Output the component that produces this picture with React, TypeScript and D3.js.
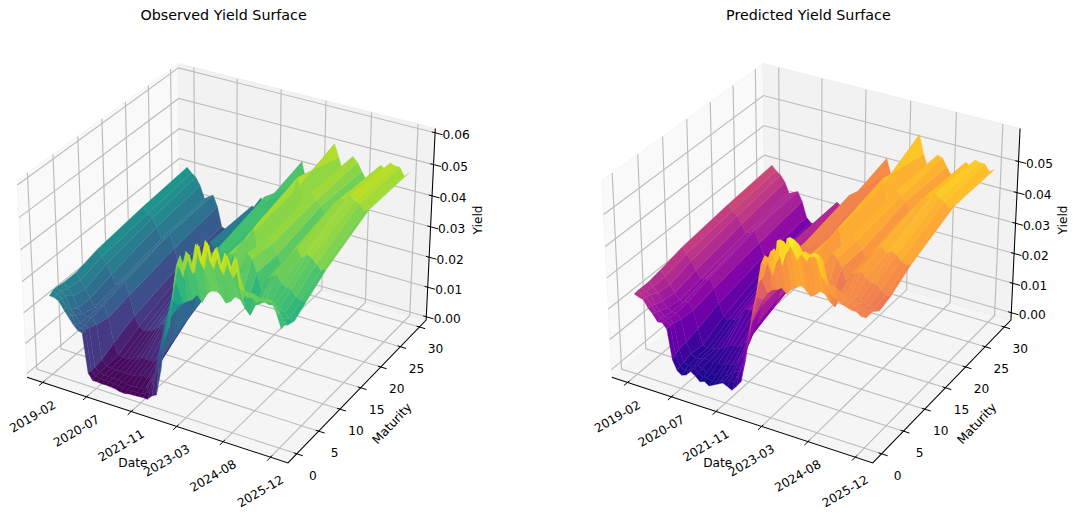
import React from "react";
import * as d3 from "d3";

const maturities = [0.08, 0.75, 1.5, 3, 5.5, 10, 20, 30];
const dateTicks = ["2019-02", "2020-07", "2021-11", "2023-03", "2024-08", "2025-12"];
const maturityTicks = [0, 5, 10, 15, 20, 25, 30];
const obsZTicks = [0, 0.01, 0.02, 0.03, 0.04, 0.05, 0.06];
const predZTicks = [0, 0.01, 0.02, 0.03, 0.04, 0.05];

// Yields in basis points, one list per maturity, 50 dates from 2019-02 to 2025-12
const obs0 = [244,243,236,215,195,175,160,155,30,10,10,8,9,8,6,2,1,4,5,6,7,6,22,30,110,220,260,390,470,430,505,450,545,490,558,500,552,480,535,500,535,470,425,430,420,430,430,435,405,362];
const obs1 = [252,245,235,210,190,165,158,158,30,15,12,11,11,9,7,5,4,5,5,6,11,25,75,125,190,275,340,450,440,500,450,530,480,550,490,535,480,530,480,525,440,430,430,430,425,425,430,425,395,365];
const obs2 = [254,245,235,195,180,160,158,155,30,17,14,13,12,10,10,8,6,7,7,10,30,55,125,180,250,320,385,470,430,480,430,515,450,525,460,510,450,500,450,480,395,420,420,415,405,410,405,395,370,355];
const obs3 = [250,235,215,180,165,160,163,145,35,17,15,14,15,13,14,15,17,25,20,30,60,95,215,260,260,290,300,310,320,340,320,350,365,370,360,340,350,370,365,340,325,360,370,380,375,380,375,365,350,348];
const obs4 = [250,230,205,180,155,160,170,135,55,20,18,18,22,25,30,35,35,35,50,60,85,120,225,270,320,340,390,395,365,410,355,400,415,450,455,390,425,470,455,420,365,410,420,430,410,400,400,380,375,372];
const obs5 = [270,250,230,200,170,180,190,150,85,55,48,50,55,65,80,100,100,100,110,110,130,160,230,280,330,330,370,395,350,390,345,385,405,450,480,395,425,460,450,420,375,420,440,455,430,445,440,425,410,415];
const obs6 = [290,270,260,235,200,210,225,180,125,110,110,120,135,145,170,235,220,210,190,205,195,215,265,320,365,340,385,430,375,405,380,415,425,465,520,435,450,485,465,450,425,455,475,490,490,510,495,490,470,480];
const obs7 = [305,290,280,255,215,225,235,200,135,130,130,130,145,165,185,235,225,270,195,205,190,215,250,300,350,315,425,365,365,390,370,400,405,510,470,425,450,485,470,445,420,445,455,480,470,495,490,490,465,480];
const observedRows = [obs0, obs1, obs2, obs3, obs4, obs5, obs6, obs7];

const pred0 = [238,232,228,205,190,170,172,155,60,28,18,24,40,30,16,22,12,20,28,36,30,22,40,60,130,225,300,395,415,470,430,540,470,555,530,500,520,505,530,520,470,450,420,415,405,400,395,395,385,385];
const pred1 = [240,235,228,205,190,172,170,160,70,35,25,30,42,32,20,25,18,24,30,38,40,40,75,110,190,280,350,445,445,490,460,535,495,550,540,510,520,510,525,520,455,440,425,420,410,405,400,390,385,385];
const pred2 = [240,232,225,200,182,170,168,155,75,38,30,34,42,35,25,30,25,30,35,42,55,65,115,165,240,320,385,460,455,490,465,520,500,535,525,500,505,500,510,495,430,430,420,415,410,405,395,385,385,385];
const pred3 = [240,228,212,190,172,165,165,150,80,45,35,38,45,40,38,42,40,50,50,60,80,105,190,245,265,295,320,335,340,350,335,355,365,375,365,350,360,375,370,350,340,370,380,385,380,385,380,375,370,368];
const pred4 = [248,230,208,185,165,165,170,145,90,40,35,38,42,48,55,65,70,72,85,100,125,160,225,270,320,345,390,400,375,410,370,405,420,445,450,400,425,460,450,425,385,415,420,430,415,405,405,390,380,380];
const pred5 = [265,248,228,202,178,182,190,160,115,75,68,72,80,95,120,125,125,120,135,130,150,185,235,280,330,330,370,395,360,390,355,390,405,445,470,405,430,455,450,425,390,425,440,450,435,445,440,425,415,420];
const pred6 = [285,268,255,232,205,212,222,185,145,125,120,130,145,155,175,230,218,210,195,210,200,220,265,315,360,345,385,425,385,405,385,415,425,460,505,440,450,480,470,455,430,455,470,485,485,505,495,485,470,480];
const pred7 = [300,285,275,255,220,228,235,205,155,140,138,140,155,170,190,235,225,220,200,210,195,220,255,300,350,330,425,375,375,395,380,400,410,530,470,430,450,480,475,450,425,445,460,480,470,495,490,490,470,480];
const predictedRows = [pred0, pred1, pred2, pred3, pred4, pred5, pred6, pred7];

const FONT = "'DejaVu Sans', sans-serif";
const BOX = [1.1906, 1.1906, 0.8929];
const R = BOX.map((b) => b / 2);
const U = [0.866, 0.5, 0];
const V = [-0.25, 0.433, 0.866];
const W = [0.433, -0.75, 0.5];
const S = 2410;
const CY = 253.3;

const dot = (a: number[], b: number[]) => a[0] * b[0] + a[1] * b[1] + a[2] * b[2];

type PanelProps = {
  title: string;
  rows: number[][];
  cx: number;
  zLim: [number, number];
  zTicks: number[];
  colors: (t: number) => string;
  colorDomain: [number, number];
};

function Panel({ title, rows, cx, zLim, zTicks, colors, colorDomain }: PanelProps) {
  const nDates = rows[0].length;
  const xLim: [number, number] = [-2.45, nDates - 1 + 2.45];
  const yLim: [number, number] = [-1.3, 31.1];
  const xS = d3.scaleLinear().domain(xLim).range([0, BOX[0]]);
  const yS = d3.scaleLinear().domain(yLim).range([0, BOX[1]]);
  const zS = d3.scaleLinear().domain(zLim).range([0, BOX[2]]);
  const pad = (l: [number, number]) => [l[0] - (l[1] - l[0]) / 48, l[1] + (l[1] - l[0]) / 48];
  const [x0, x1] = pad(xLim);
  const [y0, y1] = pad(yLim);
  const [z0, z1] = pad(zLim);

  const proj = (x: number, y: number, z: number) => {
    const p = [xS(x) - R[0], yS(y) - R[1], zS(z) - R[2]];
    const d = 10 - dot(p, W);
    return { px: [cx + (dot(p, U) / d) * S, CY - (dot(p, V) / d) * S] as [number, number], d };
  };
  const P = (x: number, y: number, z: number) => proj(x, y, z).px;
  const line = d3.line<[number, number]>();
  const closed = (pts: [number, number][]) => line(pts) + "Z";

  const color = d3.scaleSequential(colors).domain(colorDomain);
  const quads: { path: string; fill: string; depth: number }[] = [];
  for (let r = 0; r < rows.length - 1; r++) {
    for (let c = 0; c < nDates - 1; c++) {
      const corners: [number, number, number][] = [
        [c, maturities[r], rows[r][c] / 1e4],
        [c + 1, maturities[r], rows[r][c + 1] / 1e4],
        [c + 1, maturities[r + 1], rows[r + 1][c + 1] / 1e4],
        [c, maturities[r + 1], rows[r + 1][c] / 1e4],
      ];
      const pr = corners.map((k) => proj(k[0], k[1], k[2]));
      quads.push({
        path: closed(pr.map((q) => q.px)),
        fill: color(d3.mean(corners, (k) => k[2]) as number) as string,
        depth: d3.mean(pr, (q) => q.d) as number,
      });
    }
  }
  quads.sort((a, b) => b.depth - a.depth);

  const xTickVals = dateTicks.map((_, i) => (i * (nDates - 1)) / (dateTicks.length - 1));
  const gridColor = "#bcbcbc";
  const gw = 1.15;
  const xDel = (x1 - x0) * 0.022;
  const yDel = (y1 - y0) * 0.022;
  const zTickOut = (x1 - x0) * 0.028;
  const zTickIn = (x1 - x0) * 0.012;

  return (
    <g>
      <text x={cx - 6.8} y={20} textAnchor="middle" fontFamily={FONT} fontSize={14.3} fill="#000">{title}</text>
      <path d={closed([P(x0, y0, z0), P(x1, y0, z0), P(x1, y1, z0), P(x0, y1, z0)])} fill="#f5f5f5" stroke="#f5f5f5" />
      <path d={closed([P(x0, y0, z0), P(x0, y1, z0), P(x0, y1, z1), P(x0, y0, z1)])} fill="#f9f9f9" stroke="#f3f3f3" />
      <path d={closed([P(x0, y1, z0), P(x1, y1, z0), P(x1, y1, z1), P(x0, y1, z1)])} fill="#f2f2f2" stroke="#eeeeee" />
      {xTickVals.map((x) => (
        <path key={"gx" + x} fill="none" stroke={gridColor} strokeWidth={gw} d={line([P(x, y0, z0), P(x, y1, z0), P(x, y1, z1)]) as string} />
      ))}
      {maturityTicks.map((y) => (
        <path key={"gy" + y} fill="none" stroke={gridColor} strokeWidth={gw} d={line([P(x1, y, z0), P(x0, y, z0), P(x0, y, z1)]) as string} />
      ))}
      {zTicks.map((z) => (
        <path key={"gz" + z} fill="none" stroke={gridColor} strokeWidth={gw} d={line([P(x0, y0, z), P(x0, y1, z), P(x1, y1, z)]) as string} />
      ))}
      <path d={line([P(x0, y0, z0), P(x1, y0, z0), P(x1, y1, z0), P(x1, y1, z1)]) as string} fill="none" stroke="#000" strokeWidth={1.05} />
      {xTickVals.map((x, i) => {
        const a = P(x, y0 - yDel, z0);
        const b = P(x, y0 + yDel * 0.5, z0);
        const t = P(x, y0, z0);
        return (
          <g key={"tx" + i}>
            <path d={line([a, b]) as string} stroke="#000" strokeWidth={1} />
            <text transform={`translate(${t[0] + 14},${t[1] + 25}) rotate(-30)`} textAnchor="end" fontFamily={FONT} fontSize={12.2} fill="#000">{dateTicks[i]}</text>
          </g>
        );
      })}
      {maturityTicks.map((y) => {
        const a = P(x1 + xDel, y, z0);
        const b = P(x1 - xDel * 0.5, y, z0);
        const t = P(x1, y, z0);
        return (
          <g key={"ty" + y}>
            <path d={line([a, b]) as string} stroke="#000" strokeWidth={1} />
            <text x={t[0] + 16} y={t[1] + 26} textAnchor="middle" fontFamily={FONT} fontSize={12.2} fill="#000">{y}</text>
          </g>
        );
      })}
      {zTicks.map((z) => {
        const a = P(x1 + zTickOut, y1, z);
        const b = P(x1 - zTickIn, y1, z);
        const t = P(x1, y1, z);
        return (
          <g key={"tz" + z}>
            <path d={line([a, b]) as string} stroke="#000" strokeWidth={1} />
            <text x={t[0] + 21} y={t[1] + 6.5} textAnchor="middle" fontFamily={FONT} fontSize={12.2} fill="#000">{z.toFixed(2)}</text>
          </g>
        );
      })}
      <text x={cx - 97.5} y={466.5} textAnchor="middle" fontFamily={FONT} fontSize={12.2} fill="#000">Date</text>
      <text transform={`translate(${cx + 162},${424}) rotate(-47)`} textAnchor="middle" dominantBaseline="middle" fontFamily={FONT} fontSize={12.2} fill="#000">Maturity</text>
      <text transform={`translate(${cx + 248.5},${220}) rotate(-90)`} textAnchor="middle" dominantBaseline="middle" fontFamily={FONT} fontSize={12.2} fill="#000">Yield</text>
      <g>
        {quads.map((q, i) => (
          <path key={i} d={q.path} fill={q.fill} stroke={q.fill} strokeWidth={0.3} />
        ))}
      </g>
    </g>
  );
}

export default function App() {
  return (
    <svg width={1073} height={513} viewBox="0 0 1073 513" style={{ position: "absolute", left: 0, top: 0, background: "#fff" }}>
      <Panel title="Observed Yield Surface" rows={observedRows} cx={230.4} zLim={[0.0001, 0.0601]} zTicks={obsZTicks} colors={d3.interpolateViridis} colorDomain={[0.0001, 0.0555]} />
      <Panel title="Predicted Yield Surface" rows={predictedRows} cx={815.2} zLim={[-0.0013, 0.0592]} zTicks={predZTicks} colors={d3.interpolatePlasma} colorDomain={[0.0012, 0.0555]} />
    </svg>
  );
}
